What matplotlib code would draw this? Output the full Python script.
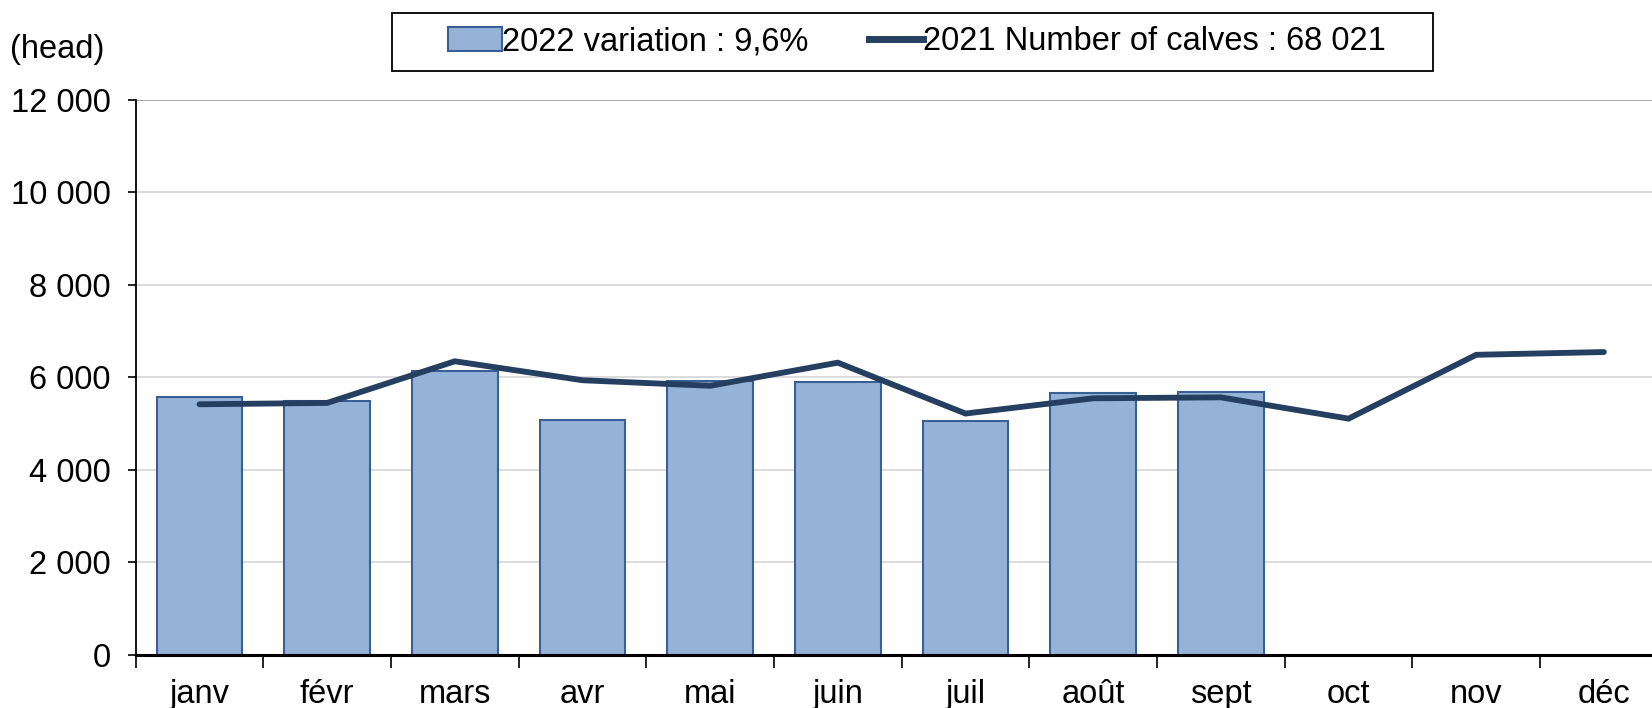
import numpy as np
import matplotlib.pyplot as plt
from matplotlib.patches import Patch, Rectangle
from matplotlib.lines import Line2D

plt.rcParams['font.family'] = ['Liberation Sans', 'DejaVu Sans']

months = ['janv', 'févr', 'mars', 'avr', 'mai', 'juin', 'juil', 'août', 'sept', 'oct', 'nov', 'déc']
calves_2022 = [5580, 5500, 6150, 5070, 5930, 5900, 5050, 5670, 5690]
calves_2021 = [5420, 5450, 6350, 5940, 5820, 6320, 5220, 5550, 5570, 5110, 6490, 6550]
yticks = [0, 2000, 4000, 6000, 8000, 10000, 12000]
ytick_labels = ['0', '2 000', '4 000', '6 000', '8 000', '10 000', '12 000']
bar_label = '2022 variation : 9,6%'
line_label = '2021 Number of calves : 68 021'

bar_fill = '#95b3d7'
bar_edge = '#3a5f94'
line_col = '#243f60'
fs = 23.5

fig = plt.figure(figsize=(16.52, 7.08), dpi=100)
# plot area runs past the right edge of the picture, as in the original
ax = fig.add_axes([0.0821, 0.0749, 0.9274, 0.7839])

x = np.arange(len(months))
ax.bar(x[:len(calves_2022)], calves_2022, width=0.67, color=bar_fill,
       edgecolor=bar_edge, linewidth=1.5, zorder=2)
ax.plot(x, calves_2021, color=line_col, lw=4.2, solid_capstyle='round',
        solid_joinstyle='miter', zorder=3)

ax.set_xlim(-0.5, 11.5)
ax.set_ylim(0, 12000)
ax.set_yticks(yticks)
ax.set_yticklabels(ytick_labels, fontsize=fs)
ax.yaxis.grid(True, color='#d9d9d9', lw=1.3, zorder=0)
ax.set_axisbelow(True)

ax.set_xticks(x)
ax.set_xticklabels(months, fontsize=fs)
ax.set_xticks(np.arange(-0.5, 12, 1), minor=True)
ax.tick_params(axis='x', which='major', length=0, pad=17)
ax.tick_params(axis='x', which='minor', length=9, width=1.2, direction='out')
ax.tick_params(axis='y', length=6, width=1.2, direction='out', pad=12)

for s in ['top', 'right']:
    ax.spines[s].set_visible(False)
ax.spines['left'].set_linewidth(1.3)
ax.spines['bottom'].set_linewidth(2.2)
ax.axhline(12000, color='#a6a6a6', lw=1.3, zorder=1)

fig.text(0.006, 0.93, '(head)', fontsize=fs, ha='left', va='center')

handles = [Patch(facecolor=bar_fill, edgecolor=bar_edge, linewidth=1.5),
           Line2D([0], [0], color=line_col, lw=5)]
leg = fig.legend(handles, [bar_label, line_label], loc='center',
                 bbox_to_anchor=(0.555, 0.941), ncol=2, fontsize=fs,
                 frameon=False, handlelength=1.65, handleheight=0.75,
                 handletextpad=0.0, columnspacing=1.85, borderpad=0,
                 borderaxespad=0)
fig.patches.append(Rectangle((0.2373, 0.8997), 0.630, 0.0819,
                             transform=fig.transFigure, fill=False,
                             edgecolor='black', lw=1.3))

fig.savefig('out.png', dpi=100)
